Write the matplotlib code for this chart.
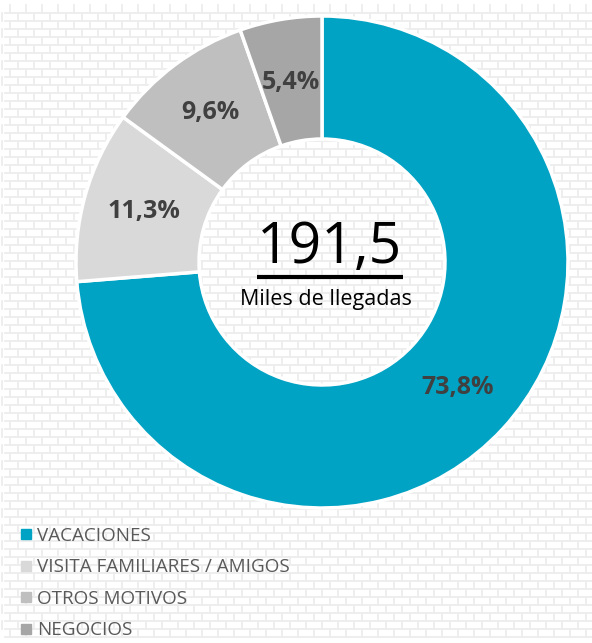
import numpy as np
import matplotlib.pyplot as plt
from matplotlib.lines import Line2D

# data
categorias = ['VACACIONES', 'VISITA FAMILIARES / AMIGOS', 'OTROS MOTIVOS', 'NEGOCIOS']
porcentajes = [73.8, 11.3, 9.6, 5.4]
etiquetas = ['73,8%', '11,3%', '9,6%', '5,4%']
colores = ['#00a3c4', '#d9d9d9', '#bfbfbf', '#a6a6a6']
total_txt = '191,5'
sub_txt = 'Miles de llegadas'

W, H = 592, 643
fig = plt.figure(figsize=(W / 100, H / 100), dpi=100)
ax = fig.add_axes([0, 0, 1, 1])
ax.set_xlim(0, W)
ax.set_ylim(0, H)
ax.set_aspect('equal')
ax.axis('off')

# brick background
lc = '#ededed'
rows = np.arange(13, H, 8)
for i, yy in enumerate(rows):
    ax.plot([5, W], [H - yy, H - yy], color=lc, lw=1.3, zorder=0)
    off = 10 if i % 2 == 0 else 2
    xs = np.arange(off, W, 16)
    for xx in xs:
        ax.plot([xx, xx], [H - yy, H - yy + 8], color=lc, lw=1.3, zorder=0)

# donut
cx, cy, R = 322, H - 262, 246
wedges, _ = ax.pie(porcentajes, colors=colores, startangle=90, counterclock=False,
                   center=(cx, cy), radius=R, frame=True,
                   wedgeprops=dict(width=R / 2, edgecolor='white', linewidth=2.5))
ax.set_xlim(0, W)
ax.set_ylim(0, H)
ax.axis('off')

# labels at mid angle
rlab = [0.75, 0.75, 0.76, 0.74]
for w, t, rl in zip(wedges, etiquetas, rlab):
    mid = np.deg2rad((w.theta1 + w.theta2) / 2)
    ax.text(cx + R * rl * np.cos(mid), cy + R * rl * np.sin(mid), t,
            ha='center', va='center', fontsize=18, fontweight='bold',
            color='#404040', family='Open Sans', zorder=5)

# center text
ax.text(cx + 8, H - 248, total_txt, ha='center', va='center', fontsize=41,
        family='Open Sans', color='black', zorder=5)
ax.plot([257, 403], [H - 277, H - 277], color='black', lw=3, zorder=5,
        solid_capstyle='butt')
ax.text(cx + 4, H - 300, sub_txt, ha='center', va='center', fontsize=15.5,
        family='Open Sans', color='black', zorder=5)

# legend
handles = [Line2D([], [], marker='s', ls='', markersize=6.5, color=c) for c in colores]
ax.legend(handles, categorias, loc='upper left', bbox_to_anchor=(14 / W, 1 - 519 / H),
          frameon=False, handlelength=0.5, handletextpad=0.3, labelspacing=0.72,
          prop=dict(family='Open Sans', size=13.6), labelcolor='#595959',
          borderaxespad=0)

fig.savefig('out.png', dpi=100, facecolor='white')
